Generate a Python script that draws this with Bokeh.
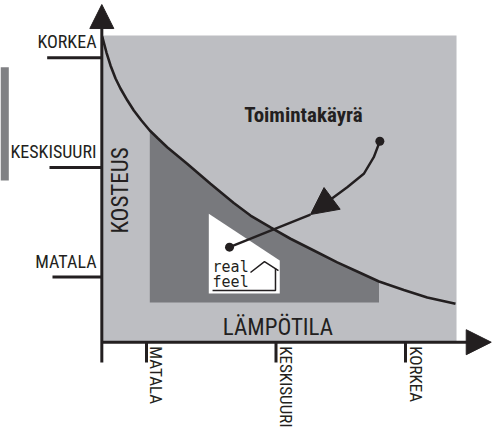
import numpy as np
from bokeh.plotting import figure
from bokeh.models import Range1d, Arrow, NormalHead
from bokeh.core.properties import value
from bokeh.embed import file_html
from bokeh.resources import INLINE

# ---------------- data (schematic units: 1 = MATALA, 2 = KESKISUURI, 3 = KORKEA) ----
level_labels = ["MATALA", "KESKISUURI", "KORKEA"]
level_values = [1, 2, 3]

x_title = "LÄMPÖTILA"
y_title = "KOSTEUS"
curve_title = "Toimintakäyrä"

# operating curve (humidity vs temperature)
curve_x = [0.658, 0.691, 0.722, 0.761, 0.799, 0.853, 0.902, 0.961, 1.0255, 1.085,
           1.160, 1.314, 1.494, 1.674, 1.803, 1.958, 2.112, 2.292, 2.473, 2.627,
           2.7954, 2.987, 3.168, 3.386]
curve_y = [3.194, 3.048, 2.930, 2.811, 2.720, 2.610, 2.519, 2.428, 2.337, 2.268,
           2.184, 2.033, 1.850, 1.675, 1.561, 1.452, 1.349, 1.242, 1.133, 1.050,
           0.959, 0.881, 0.813, 0.755]

# whole area (light), comfort area (dark), real-feel zone (white)
area_x = [0.655, 3.394]
area_y = [0.405, 3.204]
comfort_x = [1.0255, 2.7954]
comfort_bottom = 0.767
zone_x = [1.481, 2.029, 2.029, 1.481]
zone_y = [1.577, 1.151, 0.849, 0.849]

# pointer from label to the zone
pointer_x = [2.802, 2.755, 2.678, 2.550, 2.432]
pointer_y = [2.239, 2.093, 1.942, 1.819, 1.716]
pointer_tip = (2.266, 1.570)
zone_dot = (1.641, 1.272)

INK = "#231f20"
LIGHT = "#bdbec2"
DARK = "#78797d"
FONT = "Roboto Condensed"

p = figure(width=492, height=429, x_range=Range1d(-0.1274, 3.6718),
           y_range=Range1d(-0.3914, 3.5228), output_backend="svg",
           toolbar_location=None, x_axis_location=None, y_axis_location=None,
           min_border=0, outline_line_color=None)
p.grid.visible = False
p.background_fill_color = "white"

# edge of neighbouring panel (visible at the left border of the picture)
p.quad(left=-0.1274, right=-0.0633, bottom=1.880, top=2.914,
       fill_color="#808184", line_color=None)

# areas
p.quad(left=area_x[0], right=area_x[1], bottom=area_y[0], top=area_y[1],
       fill_color=LIGHT, line_color=None)
cx = np.array(curve_x); cy = np.array(curve_y)
m = (cx >= comfort_x[0]) & (cx <= comfort_x[1])
dark_x = list(cx[m]) + [comfort_x[1], comfort_x[0]]
dark_y = list(cy[m]) + [comfort_bottom, comfort_bottom]
p.patch(dark_x, dark_y, fill_color=DARK, line_color=None)
p.patch(zone_x, zone_y, fill_color="white", line_color=None)

# curve
p.line(curve_x, curve_y, line_color=INK, line_width=2.6)

# axes
ax0, ay0 = 0.655, 0.405
ybot = 0.22
p.line([ax0, ax0], [ybot, 3.30], line_color=INK, line_width=3)
p.line([ax0, 3.50], [ay0, ay0], line_color=INK, line_width=3)
p.add_layout(Arrow(end=NormalHead(size=24, fill_color=INK, line_color=INK),
                   x_start=ax0, y_start=3.25, x_end=ax0, y_end=3.486,
                   line_alpha=0))
p.add_layout(Arrow(end=NormalHead(size=25, fill_color=INK, line_color=INK),
                   x_start=3.4, y_start=ay0, x_end=3.662, y_end=ay0,
                   line_alpha=0))

# ticks
ytick_start = [0.274, 0.251, 0.233]
p.segment(x0=ytick_start, y0=level_values, x1=[ax0] * 3, y1=level_values,
          line_color=INK, line_width=3)
p.segment(x0=level_values, y0=[ay0] * 3, x1=level_values, y1=[ybot] * 3,
          line_color=INK, line_width=3)

# tick labels
p.text(x=[0.614] * 3, y=level_values, text=level_labels, text_align="right",
       text_baseline="middle", y_offset=-16, text_font=value(FONT),
       text_font_size="18px", text_color=INK)
p.text(x=level_values, y=[ay0] * 3, text=level_labels, angle=-np.pi / 2,
       text_align="left", text_baseline="middle", x_offset=10, y_offset=4,
       text_font=value(FONT), text_font_size="17px", text_color=INK)

# titles
p.text(x=[0.799], y=[1.789], text=[y_title], angle=np.pi / 2, text_align="center",
       text_baseline="middle", text_font=value(FONT), text_font_size="23px",
       text_color=INK)
p.text(x=[2.015], y=[0.541], text=[x_title], text_align="center",
       text_baseline="middle", text_font=value(FONT), text_font_size="23px",
       text_color=INK)
p.text(x=[2.212], y=[2.478], text=[curve_title], text_align="center",
       text_baseline="middle", text_font=value(FONT), text_font_style="bold",
       text_font_size="21px", text_color=INK)

# pointer
p.line(pointer_x, pointer_y, line_color=INK, line_width=2.4)
p.line([zone_dot[0], pointer_tip[0]], [zone_dot[1], pointer_tip[1]],
       line_color=INK, line_width=2.4)
p.add_layout(Arrow(end=NormalHead(size=27, fill_color=INK, line_color=INK),
                   x_start=pointer_x[-1], y_start=pointer_y[-1],
                   x_end=pointer_tip[0], y_end=pointer_tip[1], line_alpha=0))
p.scatter([zone_dot[0], pointer_x[0]], [zone_dot[1], pointer_y[0]], size=9,
          fill_color=INK, line_color=None)

# real feel logo
p.text(x=[1.510, 1.510], y=[1.087, 0.950], text=["real", "feel"],
       text_align="left", text_baseline="middle",
       text_font=value("DejaVu Sans Mono"), text_font_size="15px", text_color=INK)
p.line([1.803, 1.911, 2.019], [1.041, 1.141, 1.059], line_color=INK, line_width=1.5)
p.line([1.996, 1.996, 1.510], [1.078, 0.877, 0.877], line_color=INK, line_width=1.5)

open("out.html", "w").write(file_html(p, INLINE))
